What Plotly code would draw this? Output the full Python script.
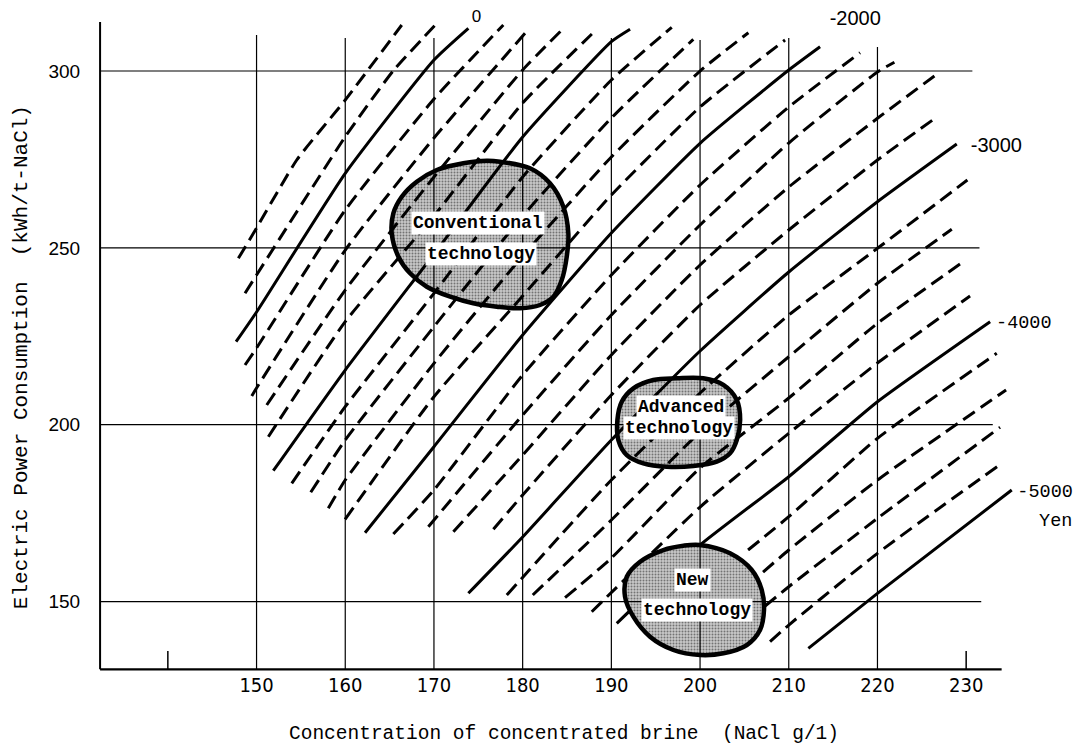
import plotly.graph_objects as go

# ---------------- data ----------------
x_tick_values = [150, 160, 170, 180, 190, 200, 210, 220, 230]
y_tick_values = [150, 200, 250, 300]
x_major_ticks = [140, 230]

x_grid = [150, 160, 170, 180, 190, 200, 210, 220]
x_grid_top = [310.2, 309.3, 309.3, 310.2, 309.3, 308.8, 309.3, 306.8]
y_grid = [150, 200, 250, 300]
y_grid_right = [231.7, 233.0, 231.5, 230.7]

axis_x_min, axis_x_max = 132.36, 234.0
axis_y_min, axis_y_max = 130.85, 313.86

# iso-cost lines (Yen); multiples of 1000 are solid
contour_values = [400, 200, 0, -200, -400, -600, -800, -1000, -1200, -1400,
                  -1600, -1800, -2000, -2200, -2400, -2600, -2800, -3000,
                  -3200, -3400, -3600, -3800, -4000, -4200, -4400, -4600,
                  -4800, -5000]
contour_x = [
    [147.95, 150.0, 154.53, 160.0, 166.37],
    [148.70, 150.0, 160.0, 165.39, 170.50],
    [147.69, 150.0, 160.0, 170.0, 173.88],
    [148.70, 150.0, 160.0, 170.0, 177.82],
    [149.46, 150.0, 160.0, 170.0, 180.27],
    [151.15, 160.0, 170.0, 180.0, 184.41],
    [151.33, 160.0, 170.0, 180.0, 188.35],
    [151.89, 160.0, 170.0, 180.0, 190.0, 192.11],
    [153.97, 160.0, 170.0, 180.0, 190.0, 196.81],
    [156.11, 160.0, 170.0, 180.0, 190.0, 199.24],
    [158.09, 160.0, 170.0, 180.0, 190.0, 200.0, 205.45],
    [159.98, 170.0, 180.0, 190.0, 200.0, 209.58],
    [162.23, 170.0, 180.0, 190.0, 200.0, 210.0, 213.53],
    [165.42, 170.0, 180.0, 190.0, 200.0, 210.0, 218.04],
    [169.37, 180.0, 190.0, 200.0, 210.0, 220.0, 221.91],
    [172.19, 180.0, 190.0, 200.0, 210.0, 220.0, 226.42],
    [176.70, 180.0, 190.0, 200.0, 210.0, 220.0, 226.49],
    [173.88, 180.0, 190.0, 200.0, 210.0, 220.0, 228.94],
    [178.21, 190.0, 200.0, 210.0, 220.0, 230.14],
    [181.14, 190.0, 200.0, 210.0, 220.0, 228.38],
    [184.78, 190.0, 200.0, 210.0, 220.0, 229.43],
    [187.79, 200.0, 210.0, 220.0, 230.44],
    [190.61, 200.0, 210.0, 220.0, 232.70],
    [205.41, 210.0, 220.0, 233.45],
    [207.10, 210.0, 220.0, 234.50],
    [207.33, 210.0, 220.0, 233.82],
    [207.89, 210.0, 220.0, 233.90],
    [212.21, 220.0, 235.14],
]
contour_y = [
    [247.04, 255.61, 274.84, 291.80, 313.01],
    [237.15, 242.32, 281.42, 300.0, 313.94],
    [223.47, 231.86, 271.08, 303.11, 312.07],
    [216.88, 221.68, 260.70, 292.08, 313.01],
    [208.11, 210.37, 249.39, 281.06, 310.66],
    [205.57, 238.08, 270.03, 300.28, 311.59],
    [196.61, 229.12, 259.00, 290.95, 311.79],
    [186.99, 215.46, 248.26, 281.34, 308.28, 311.79],
    [183.43, 205.09, 237.15, 270.03, 297.46, 312.36],
    [180.89, 195.67, 227.71, 259.00, 286.71, 308.96],
    [176.36, 184.36, 217.36, 247.69, 275.69, 300.0, 310.83],
    [173.25, 207.91, 236.39, 264.94, 289.82, 308.76],
    [169.46, 193.78, 225.36, 254.20, 279.56, 300.28, 306.87],
    [169.09, 181.54, 214.05, 242.32, 267.77, 289.82, 305.17],
    [171.16, 202.74, 231.01, 256.46, 279.64, 299.72, 302.46],
    [169.75, 191.43, 219.70, 245.15, 267.20, 286.63, 298.59],
    [170.42, 180.12, 208.39, 233.84, 255.05, 274.84, 286.63],
    [152.33, 168.25, 195.67, 220.84, 243.17, 263.05, 279.36],
    [151.85, 184.36, 208.96, 231.01, 249.87, 269.18],
    [151.85, 173.05, 197.93, 219.22, 239.98, 255.24],
    [151.09, 162.31, 187.76, 207.55, 228.67, 245.63],
    [147.13, 176.73, 197.57, 217.44, 236.39],
    [143.85, 165.99, 185.30, 206.50, 229.12],
    [164.57, 173.99, 196.15, 220.18],
    [158.35, 164.57, 184.36, 209.81],
    [148.74, 154.20, 173.53, 199.26],
    [138.65, 143.37, 163.64, 188.89],
    [136.78, 152.33, 181.54],
]

# technology regions (outlines)
conv_x = [177.45, 180.83, 183.08, 184.59, 185.15, 184.97, 184.41, 183.46, 181.96,
          179.70, 177.08, 174.44, 171.83, 169.19, 167.31, 165.99, 165.24, 165.42,
          166.37, 168.06, 170.32, 173.31, 175.95]
conv_y = [274.36, 272.49, 268.25, 261.63, 254.11, 247.50, 240.91, 236.19, 233.84,
          232.91, 233.36, 234.32, 236.19, 239.02, 242.80, 247.50, 254.11, 259.77,
          264.46, 268.70, 272.01, 273.90, 274.64]
adv_x = [197.37, 200.37, 202.63, 204.14, 204.52, 204.14, 203.38, 201.88, 199.24,
         196.25, 193.61, 191.74, 190.79, 190.68, 191.17, 192.48, 194.73]
adv_y = [213.12, 213.12, 211.23, 206.98, 201.33, 195.67, 191.91, 189.54, 188.32,
         188.12, 189.09, 191.43, 195.67, 201.33, 206.50, 210.29, 212.64]
new_x = [200.0, 203.38, 205.83, 206.96, 207.21, 206.76, 205.27, 202.63, 200.0,
         196.99, 194.36, 192.48, 191.54, 191.74, 193.24, 195.86, 198.12]
new_y = [165.99, 163.64, 158.92, 153.26, 147.61, 141.96, 137.71, 135.37, 134.89,
         136.31, 140.06, 145.72, 151.37, 157.02, 161.27, 164.57, 165.79]

region_labels = [
    ("Conventional", 175.0, 256.9), ("technology", 175.3, 248.2),
    ("Advanced", 197.9, 204.9), ("technology", 197.6, 199.2),
    ("New", 199.1, 156.1), ("technology", 199.7, 147.6),
]

zero_label = ("0", 174.8, 315.0)
sans_value_labels = [("-2000", 217.5, 314.56), ("-3000", 233.4, 278.6)]
mono_value_labels = [("-4000", 236.5, 228.7), ("-5000", 238.9, 180.8), ("Yen", 240.1, 172.8)]

x_title = "Concentration of concentrated brine\u00a0\u00a0(NaCl g/1)"
y_title = "Electric Power Consumption\u00a0\u00a0(kWh/t-NaCl)"

# ---------------- figure ----------------
MONO = "Liberation Mono, DejaVu Sans Mono, monospace"
SANS = "Liberation Sans, Arial, sans-serif"
NARROW = "Liberation Sans Narrow, DejaVu Sans Condensed, Liberation Sans, sans-serif"

fig = go.Figure()

stipple = dict(shape=".", fgcolor="#1e1e1e", bgcolor="#c8c8c8", size=3, solidity=0.33)


def blob(xs, ys):
    return go.Scatter(x=xs + xs[:1], y=ys + ys[:1], mode="lines", fill="toself",
                      fillcolor="#c8c8c8", fillpattern=stipple,
                      line=dict(color="black", width=4.5, shape="spline", smoothing=1),
                      hoverinfo="skip")


fig.add_trace(blob(conv_x, conv_y))
fig.add_trace(blob(adv_x, adv_y))

for v, xs, ys in zip(contour_values, contour_x, contour_y):
    solid = (v % 1000 == 0)
    fig.add_trace(go.Scatter(
        x=xs, y=ys, mode="lines",
        line=dict(color="black", width=3, shape="spline", smoothing=0.5,
                  dash="solid" if solid else "14px,7px"),
        hoverinfo="skip"))

fig.add_trace(blob(new_x, new_y))

fig.add_trace(go.Scatter(
    x=[zero_label[1]], y=[zero_label[2]], text=[zero_label[0]], mode="text",
    cliponaxis=False, textfont=dict(family=SANS, size=17, color="black"),
    hoverinfo="skip"))
fig.add_trace(go.Scatter(
    x=[p[1] for p in sans_value_labels], y=[p[2] for p in sans_value_labels],
    text=[p[0] for p in sans_value_labels], mode="text", cliponaxis=False,
    textfont=dict(family=SANS, size=20, color="black"), hoverinfo="skip"))
fig.add_trace(go.Scatter(
    x=[p[1] for p in mono_value_labels], y=[p[2] for p in mono_value_labels],
    text=[p[0] for p in mono_value_labels], mode="text", cliponaxis=False,
    textfont=dict(family=MONO, size=18.5, color="black"), hoverinfo="skip"))

shapes = []
for gx, top in zip(x_grid, x_grid_top):
    shapes.append(dict(type="line", xref="x", yref="y", x0=gx, x1=gx,
                       y0=axis_y_min, y1=top, line=dict(color="black", width=1.2),
                       layer="above"))
for gy, right in zip(y_grid, y_grid_right):
    shapes.append(dict(type="line", xref="x", yref="y", x0=axis_x_min, x1=right,
                       y0=gy, y1=gy, line=dict(color="black", width=1.2),
                       layer="above"))
for tx in x_major_ticks:
    shapes.append(dict(type="line", xref="x", yref="y", x0=tx, x1=tx,
                       y0=axis_y_min, y1=136.0, line=dict(color="black", width=1.5),
                       layer="above"))
shapes.append(dict(type="line", xref="x", yref="y", x0=axis_x_min, x1=axis_x_min,
                   y0=axis_y_min, y1=axis_y_max, line=dict(color="black", width=2),
                   layer="above"))
shapes.append(dict(type="line", xref="x", yref="y", x0=axis_x_min, x1=axis_x_max,
                   y0=axis_y_min, y1=axis_y_min, line=dict(color="black", width=2.2),
                   layer="above"))

annotations = []
for txt, ax_, ay_ in region_labels:
    annotations.append(dict(x=ax_, y=ay_, xref="x", yref="y", text="<b>" + txt + "</b>",
                            showarrow=False, bgcolor="white", borderpad=1,
                            font=dict(family=MONO, size=18, color="black")))
annotations.append(dict(x=184.67, y=-0.0952, xref="x", yref="paper", text=x_title,
                        xanchor="center", yanchor="middle", showarrow=False,
                        font=dict(family=MONO, size=19.5, color="black")))
annotations.append(dict(x=-0.0775, y=219.1, xref="paper", yref="y", text=y_title,
                        xanchor="center", yanchor="middle", textangle=-90,
                        showarrow=False,
                        font=dict(family=MONO, size=21, color="black")))

# the page body adds an 8 px margin, so the figure is sized to fit inside it
fig.update_layout(
    width=1065, height=736, autosize=False,
    margin=dict(l=88, r=9, t=1, b=73),
    plot_bgcolor="white", paper_bgcolor="white", showlegend=False,
    shapes=shapes, annotations=annotations,
    xaxis=dict(range=[131.9, 241.03], tickvals=x_tick_values,
               ticktext=[str(v) for v in x_tick_values], showgrid=False,
               zeroline=False, showline=False, ticks="",
               tickfont=dict(family=NARROW, size=20, color="black")),
    yaxis=dict(range=[130.37, 317.53], tickvals=y_tick_values,
               ticktext=[str(v) for v in y_tick_values], showgrid=False,
               zeroline=False, showline=False, ticks="outside", ticklen=11,
               tickcolor="rgba(0,0,0,0)",
               tickfont=dict(family=SANS, size=19, color="black")),
)

fig.write_html("out.html")
